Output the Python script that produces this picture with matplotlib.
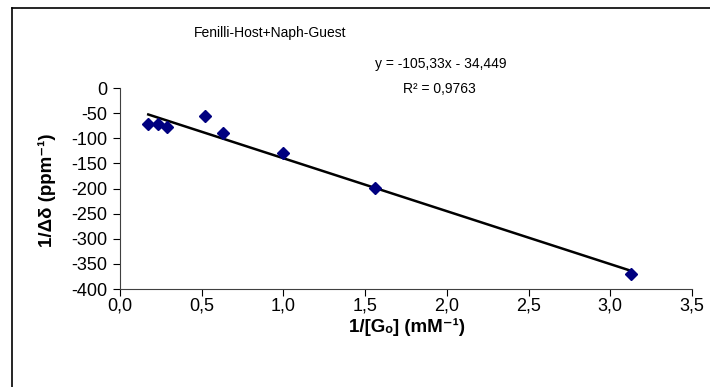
import matplotlib.pyplot as plt
import numpy as np
from matplotlib.lines import Line2D
from matplotlib.ticker import FuncFormatter

plt.rcParams['font.family'] = ['Liberation Sans', 'DejaVu Sans']

# 1/[Go] (mM^-1) and 1/delta (ppm^-1)
inv_go = [0.173, 0.231, 0.286, 0.520, 0.628, 1.000, 1.5625, 3.125]
inv_delta = [-71.6, -71.6, -77.6, -56.3, -88.9, -129.0, -198.0, -370.0]

# trendline from the chart label
slope = -105.33
intercept = -34.449
r2 = 0.9763

x_ticks = np.arange(0, 3.51, 0.5)
y_ticks = np.arange(-400, 1, 50)

fig = plt.figure(figsize=(7.1, 3.87), dpi=100)
ax = fig.add_axes([0.169, 0.2532, 0.8056, 0.5194])

xs = np.array([min(inv_go), max(inv_go)])
ax.plot(xs, slope * xs + intercept, color='black', lw=1.8, zorder=2)
ax.plot(inv_go, inv_delta, linestyle='none', marker='D', markersize=6,
        color='#000080', zorder=3)

ax.set_xlim(0, 3.5)
ax.set_ylim(-400, 0)
ax.set_xticks(x_ticks)
ax.set_yticks(y_ticks)
ax.xaxis.set_major_formatter(FuncFormatter(lambda v, p: f'{v:.1f}'.replace('.', ',')))
ax.yaxis.set_major_formatter(FuncFormatter(lambda v, p: f'{v:.0f}'))
ax.tick_params(direction='out', length=5, width=0.8, colors='black', labelsize=13, pad=4)
ax.tick_params(axis='x', pad=1)
for s in ['top', 'right']:
    ax.spines[s].set_visible(False)
for s in ['left', 'bottom']:
    ax.spines[s].set_color('#404040')
    ax.spines[s].set_linewidth(0.8)

fig.text(47 / 710, 1 - 190 / 387, '1/\u0394\u03b4 (ppm\u207b\u00b9)', rotation=90,
         ha='center', va='center', fontsize=13.5, fontweight='bold')
fig.text(407 / 710, 1 - 327 / 387, '1/[G\u2092] (mM\u207b\u00b9)',
         ha='center', va='center', fontsize=13.5, fontweight='bold')
fig.text(270 / 710, 1 - 33 / 387, 'Fenilli-Host+Naph-Guest', ha='center', va='center', fontsize=10)
fig.text(441 / 710, 1 - 64 / 387, f'y = {slope:.2f}x - {abs(intercept):.3f}'.replace('.', ','),
         ha='center', va='center', fontsize=10)
fig.text(439 / 710, 1 - 89 / 387, f'R\u00b2 = {r2:.4f}'.replace('.', ','),
         ha='center', va='center', fontsize=10)

# chart area border (runs off the right and bottom of the image)
fig.add_artist(Line2D([12 / 710, 1.01], [1 - 8 / 387, 1 - 8 / 387], color='black', lw=1.2,
                      transform=fig.transFigure))
fig.add_artist(Line2D([12 / 710, 12 / 710], [1 - 8 / 387, -0.01], color='black', lw=1.2,
                      transform=fig.transFigure))

fig.savefig('out.png', dpi=100)
